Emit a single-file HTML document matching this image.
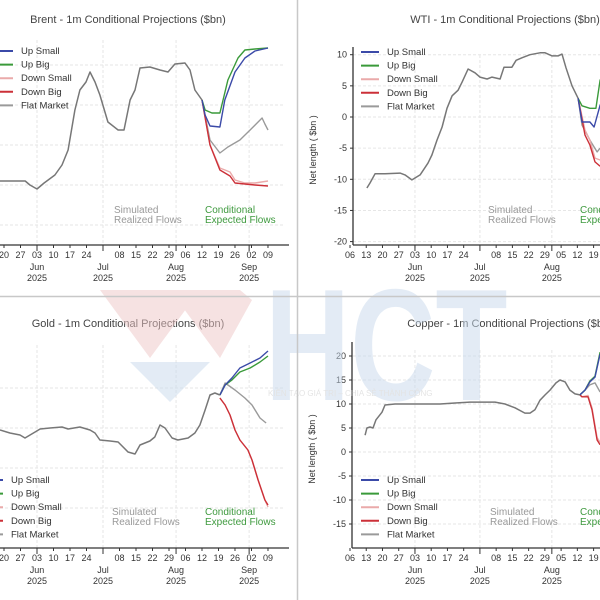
<!DOCTYPE html>
<html><head><meta charset="utf-8"><style>
html,body{margin:0;padding:0;background:#fff;width:600px;height:600px;overflow:hidden}
svg{display:block;font-family:"Liberation Sans",sans-serif}
</style></head><body>
<svg id="chart" width="600" height="600" viewBox="0 0 600 600">
<rect width="600" height="600" fill="#fff"/>
<g id="wm" opacity="0.5">
  <polygon points="100,290 150,358 200,290" fill="#eec6c6"/>
  <polygon points="170,290 220,358 252,300 240,290" fill="#eec6c6"/>
  <polygon points="130,362 210,362 170,402" fill="#c8d9ec"/>
  <text x="0" y="0" font-size="118" font-weight="bold" fill="#c8d9ec" transform="translate(265,400) scale(1,1.35)">HCT</text>
  <text x="268" y="396" font-size="8" fill="#c9c9c9">KIẾN TẠO GIÁ TRỊ – CHIA SẺ THÀNH CÔNG</text>
</g>
<line x1="297.5" y1="0" x2="297.5" y2="600" stroke="#c8c8c8" stroke-width="1.5"/>
<line x1="0" y1="296.5" x2="600" y2="296.5" stroke="#c8c8c8" stroke-width="1.5"/>
</svg>
<script>
// ---------- data (days since May 06 2025; values in each panel's units) ----------
const brentMainDays=[12,23,25,28,31,35.6,38.6,41.2,44.1,46.2,48.8,50.5,52.6,54.7,58.1,62.4,64.9,67.5,69.6,71.7,75.9,80.2,83.6,86.5,90.8,92.9,95,98];
const brentMainVals=[32,32,30,28,31,35,40,47.5,67.5,77.5,81.5,86.5,81.5,75,61.5,57.5,57.5,72.5,77.5,88.5,89,87.5,86.5,90.5,91,87.5,77.5,72.5];
const brentUpBigDays=[98,99.3,102.2,105.6,109,113.3,116.2,120.5,126];
const brentUpBigVals=[72.5,67.5,66,66,82.5,93.5,97.5,98,98.5];
const brentUpSmallDays=[98,99.3,101.4,105.6,107.7,112,116.2,120.5,126];
const brentUpSmallVals=[72.5,65,59.5,59,72.5,86.5,93.5,97,98.5];
const brentFlatDays=[98,101.4,105.6,109,114.1,118.4,121.8,123.5,124.7,126];
const brentFlatVals=[72.5,52.5,46,49,52.5,57.5,61.5,63.5,60.5,57.5];
const brentDownSmallDays=[98,101.4,105.6,109.9,112,116.2,120.5,126];
const brentDownSmallVals=[72.5,50,38.5,36.5,32.5,31,31,32];
const brentDownBigDays=[98,101.4,105.6,109.9,112,116.2,120.5,126];
const brentDownBigVals=[72.5,50,37.5,34.5,31,30.5,30,29.5];

const wtiMainDays=[7.3,8.6,10.8,15.1,21.6,23.7,26.7,30.2,33.6,35.3,37.5,39.7,41.8,44,46.6,48.3,50.9,53.9,56,59.1,61.2,64.7,66.4,69.8,71.6,74.1,77.6,81.9,84.1,87.1,89.7,91.4,93.1,95.7,98.3];
const wtiMainVals=[-11.4,-10.6,-9.1,-9.1,-9,-9.3,-10.1,-9.3,-7.4,-6.1,-3.7,-1.6,1.4,3.4,4.3,5.6,7.7,7.1,6.4,6.1,6.4,6.1,8,8,9.1,9.5,10,10.3,10.3,9.8,9.8,10.1,7.9,5,3];
const wtiUpBigDays=[98.3,100,103.4,106,107.8,110];
const wtiUpBigVals=[3,1.8,1.4,1.4,5.9,7.5];
const wtiUpSmallDays=[98.3,100,103.4,105.2,107.8,110];
const wtiUpSmallVals=[3,-0.8,-0.8,-1.6,1.9,3.5];
const wtiFlatDays=[98.3,100,103.4,106.5,107.8];
const wtiFlatVals=[3,-1.3,-3.7,-5.6,-5];
const wtiDownSmallDays=[98.3,101.3,103.4,105.6,107.8];
const wtiDownSmallVals=[3,-2.1,-3.7,-6.6,-6.9];
const wtiDownBigDays=[98.3,101.3,103.4,105.6,107.8];
const wtiDownBigVals=[3,-2.9,-4.5,-7.2,-7.9];
const wtiTicks=[-20,-15,-10,-5,0,5,10];

const goldMainDays=[12.3,16.5,20.8,22.9,27.2,29.3,33.5,38.6,41.2,46.2,50.5,52.6,54.7,59,62.4,66.6,69.6,71.7,75.9,78,80.2,82.3,85.3,87.8,92.1,95,97.1,99.3,101.4,103.5,105.6];
const goldMainVals=[59,57.5,56.5,55,58,59.5,60,60.5,59.5,60.5,59,57.5,54,53.5,53,48,47,51.5,53.5,55.5,61.5,60,55,54,55,57.5,61.5,69,76.5,77.5,76.5];
const goldUpSmallDays=[105.6,107.8,110.7,114.1,118.4,122.6,126];
const goldUpSmallVals=[76.5,81.5,85,90,92.5,95,98.5];
const goldUpBigDays=[105.6,107.8,110.7,114.1,118.4,122.6,126];
const goldUpBigVals=[76.5,81.5,84,88,90,93,96];
const goldFlatDays=[105.6,107.8,112,116.2,119.2,122.6,125.2];
const goldFlatVals=[76.5,82.5,79,75,71.5,65,62.5];
const goldDownSmallDays=[105.6,107.8,109.9,112,114.1,117.5,119.2,121.8,124.7,126];
const goldDownSmallVals=[75,71.5,66.5,59,54,49,44,34,24,20.5];
const goldDownBigDays=[105.6,107.8,109.9,112,114.1,117.5,119.2,121.8,124.7,126];
const goldDownBigVals=[75,71.5,66.5,59,54,49,44,34,24,21.5];

const copperMainDays=[6.5,7.3,8.6,9.9,11.2,13.8,15.1,19.4,30.2,38.8,45.3,51.7,62.5,66.8,71.1,75.4,77.6,79.7,81.9,84.1,86.2,88.8,90.5,92.7,94.8,97,99.1];
const copperMainVals=[3.5,5,5.2,5,6.7,8.3,9.8,10,10,10,10.2,10.4,10.4,10,9.2,8.1,8.1,8.8,10.8,11.9,12.9,14.4,15,14.6,12.9,12.1,11.9];
const copperUpBigDays=[99.1,101.3,103.4,105.6,107.8];
const copperUpBigVals=[11.9,12.9,14.8,15.8,20.8];
const copperUpSmallDays=[99.1,101.3,103.4,105.6,107.8];
const copperUpSmallVals=[11.9,12.9,14.6,15.6,20.4];
const copperFlatDays=[99.1,101.3,103.4,105.6,107.8];
const copperFlatVals=[11.9,12.9,14,14.4,12.5];
const copperDownSmallDays=[99.1,100,102.6,104.3,106.5,107.8];
const copperDownSmallVals=[11.9,11.5,11.8,9.2,3,2];
const copperDownBigDays=[99.1,100,102.6,104.3,106.5,107.8];
const copperDownBigVals=[11.9,11.5,11.5,8.8,2.5,1.5];
const copperTicks=[-15,-10,-5,0,5,10,15,20];

const legendLabels=["Up Small","Up Big","Down Small","Down Big","Flat Market"];
const leftTickDays=[14,21,28,35,42,49,63,70,77,84,91,98,105,112,119,126];
const leftTickLabels=["20","27","03","10","17","24","08","15","22","29","06","12","19","26","02","09"];
const rightTickDays=[0,7,14,21,28,35,42,49,63,70,77,84,91,98,105];
const rightTickLabels=["06","13","20","27","03","10","17","24","08","15","22","29","05","12","19"];
const monthDays=[28,56,87,118];
const monthLabels=["Jun","Jul","Aug","Sep"];

// ---------- drawing ----------
const NS="http://www.w3.org/2000/svg";
const svg=document.getElementById('chart');
const wm=document.getElementById('wm');
const COL={upSmall:"#3b4aa8",upBig:"#3a9a3a",downSmall:"#eaaaaa",downBig:"#cc3038",flat:"#9a9a9a",main:"#777"};
const legendCols=[COL.upSmall,COL.upBig,COL.downSmall,COL.downBig,COL.flat];

function mk(tag,attrs,parent){const e=document.createElementNS(NS,tag);for(const k in attrs)e.setAttribute(k,attrs[k]);(parent||svg).appendChild(e);return e;}

function panel(p){
  const g=document.createElementNS(NS,'g');
  
  
  svg.insertBefore(g,wm);
  const X=d=>p.x0+d*p.k;
  const Y=v=>p.y0-(v-p.v0)*p.s;
  const gridVals=p.ticks||p.gridVals;
  gridVals.forEach(v=>{mk('line',{x1:p.gx1,x2:p.gx2,y1:Y(v),y2:Y(v),stroke:"#e6e6e6","stroke-dasharray":"3,2"},g);});
  monthDays.forEach(d=>{if(X(d)>p.gx1&&X(d)<p.gx2)mk('line',{x1:X(d),x2:X(d),y1:p.gy1,y2:p.axisY,stroke:"#e6e6e6","stroke-dasharray":"3,2"},g);});
  const t=mk('text',{x:p.titleX,y:p.titleY,"font-size":"11","fill":"#444","text-anchor":"middle"},g);
  t.textContent=p.title;
  
  
  const ax=mk('line',{x1:p.axX1,x2:p.gx2+6,y1:p.axisY,y2:p.axisY,stroke:"#333","stroke-width":"1.3"},g);
  
  
  p.tickDays.forEach((d,i)=>{
    mk('line',{x1:X(d),x2:X(d),y1:p.axisY,y2:p.axisY+3,stroke:"#333"},g);
    const tl=mk('text',{x:X(d),y:p.axisY+13,"font-size":"9","fill":"#333","text-anchor":"middle"},g);
    tl.textContent=p.tickLabels[i];
    
    
  });
  monthDays.forEach((d,i)=>{
    mk('line',{x1:X(d),x2:X(d),y1:p.axisY,y2:p.axisY+6,stroke:"#333"},g);
    const m=mk('text',{x:X(d),y:p.axisY+25,"font-size":"9","fill":"#333","text-anchor":"middle"},g);
    m.textContent=monthLabels[i];
    
    
    const yy=mk('text',{x:X(d),y:p.axisY+36,"font-size":"9","fill":"#333","text-anchor":"middle"},g);
    yy.textContent="2025";
    
    
  });
  if(p.ticks){
    const ya=mk('line',{x1:p.axX1,x2:p.axX1,y1:p.gy1-8,y2:p.axisY,stroke:"#333","stroke-width":"1.3"},g);
    
    
    p.ticks.forEach(v=>{
      mk('line',{x1:p.axX1-3,x2:p.axX1,y1:Y(v),y2:Y(v),stroke:"#333"},g);
      const yl=mk('text',{x:p.axX1-6,y:Y(v)+3,"font-size":"9","fill":"#333","text-anchor":"end"},g);
      yl.textContent=String(v);
      
      
    });
    const yt=mk('text',{x:0,y:0,"font-size":"9","fill":"#333","text-anchor":"middle",transform:`translate(${p.axX1-37},${(p.gy1+p.axisY)/2}) rotate(-90)`},g);
    yt.textContent="Net length ( $bn )";
    
    
  }
  const a1=mk('text',{x:p.simX,y:p.annY,"font-size":"10","fill":"#999"},g);
  a1.innerHTML=`<tspan x="${p.simX}">Simulated</tspan><tspan x="${p.simX}" dy="10">Realized Flows</tspan>`;
  
  
  const a2=mk('text',{x:p.condX,y:p.annY,"font-size":"10","fill":"#3f9a3f"},g);
  a2.innerHTML=`<tspan x="${p.condX}">Conditional</tspan><tspan x="${p.condX}" dy="10">Expected Flows</tspan>`;
  
  
  const line=(days,vals,col,w,name)=>{
    const d=days.map((dd,i)=>(i?'L':'M')+X(dd).toFixed(1)+','+Y(vals[i]).toFixed(1)).join(' ');
    const e=mk('path',{d:d,fill:"none",stroke:col,"stroke-width":w,"stroke-linejoin":"round"},g);
    
    
  };
  const s=p.series;
  line(s.flat[0],s.flat[1],COL.flat,1.4,'flat-market-line');
  line(s.downSmall[0],s.downSmall[1],COL.downSmall,1.4,'down-small-line');
  line(s.downBig[0],s.downBig[1],COL.downBig,1.4,'down-big-line');
  line(s.upBig[0],s.upBig[1],COL.upBig,1.4,'up-big-line');
  line(s.upSmall[0],s.upSmall[1],COL.upSmall,1.4,'up-small-line');
  line(s.main[0],s.main[1],COL.main,1.5,'history-line');
  legendLabels.forEach((lab,i)=>{
    const yy=p.legY+i*13.6;
    mk('line',{x1:p.legX,x2:p.legX+18,y1:yy-3,y2:yy-3,stroke:legendCols[i],"stroke-width":"2"},g);
    const lt=mk('text',{x:p.legX+26,y:yy,"font-size":"9.5","fill":"#333"},g);
    lt.textContent=lab;
    
    
  });
}

panel({name:'brent-panel',title:'Brent - 1m Conditional Projections ($bn)',titleX:128,titleY:23,
  x0:-29,k:2.357,y0:245,v0:0,s:2,gridVals:[10,30,50,70,90],gx1:0,gx2:283,gy1:40,axisY:245,axX1:-5,
  tickDays:leftTickDays,tickLabels:leftTickLabels,simX:114,condX:205,annY:213,legX:-5,legY:54,
  series:{main:[brentMainDays,brentMainVals],upBig:[brentUpBigDays,brentUpBigVals],upSmall:[brentUpSmallDays,brentUpSmallVals],flat:[brentFlatDays,brentFlatVals],downSmall:[brentDownSmallDays,brentDownSmallVals],downBig:[brentDownBigDays,brentDownBigVals]}});
panel({name:'wti-panel',title:'WTI - 1m Conditional Projections ($bn)',titleX:505,titleY:23,
  x0:350,k:2.32,y0:117,v0:0,s:6.23,ticks:wtiTicks,gx1:353,gx2:600,gy1:55,axisY:245,axX1:353,
  tickDays:rightTickDays,tickLabels:rightTickLabels,simX:488,condX:580,annY:213,legX:361,legY:55,
  series:{main:[wtiMainDays,wtiMainVals],upBig:[wtiUpBigDays,wtiUpBigVals],upSmall:[wtiUpSmallDays,wtiUpSmallVals],flat:[wtiFlatDays,wtiFlatVals],downSmall:[wtiDownSmallDays,wtiDownSmallVals],downBig:[wtiDownBigDays,wtiDownBigVals]}});
panel({name:'gold-panel',title:'Gold - 1m Conditional Projections ($bn)',titleX:128,titleY:327,
  x0:-29,k:2.357,y0:548,v0:0,s:2,gridVals:[20,40,60,80],gx1:0,gx2:283,gy1:345,axisY:548,axX1:-5,
  tickDays:leftTickDays,tickLabels:leftTickLabels,simX:112,condX:205,annY:515,legX:-15,legY:483,
  series:{main:[goldMainDays,goldMainVals],upBig:[goldUpBigDays,goldUpBigVals],upSmall:[goldUpSmallDays,goldUpSmallVals],flat:[goldFlatDays,goldFlatVals],downSmall:[goldDownSmallDays,goldDownSmallVals],downBig:[goldDownBigDays,goldDownBigVals]}});
panel({name:'copper-panel',title:'Copper - 1m Conditional Projections ($bn)',titleX:510,titleY:327,
  x0:350,k:2.32,y0:452,v0:0,s:4.8,ticks:copperTicks,gx1:353,gx2:600,gy1:350,axisY:548,axX1:352,
  tickDays:rightTickDays,tickLabels:rightTickLabels,simX:490,condX:580,annY:515,legX:361,legY:483,
  series:{main:[copperMainDays,copperMainVals],upBig:[copperUpBigDays,copperUpBigVals],upSmall:[copperUpSmallDays,copperUpSmallVals],flat:[copperFlatDays,copperFlatVals],downSmall:[copperDownSmallDays,copperDownSmallVals],downBig:[copperDownBigDays,copperDownBigVals]}});
</script>
</body></html>
